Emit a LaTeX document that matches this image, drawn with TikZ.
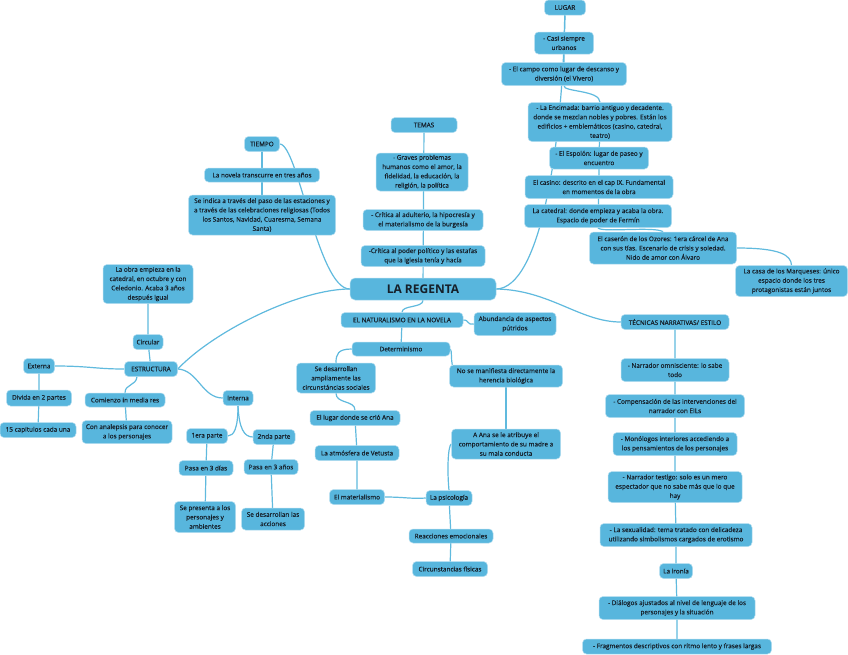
\documentclass[tikz,border=0pt]{standalone}
\usepackage{fontspec}
\setmainfont{Open Sans}
\newfontfamily\mapfont{Open Sans}[FakeBold=0.45]
\usetikzlibrary{backgrounds}
\definecolor{mapblue}{RGB}{88,182,221}
\definecolor{mapedge}{RGB}{96,186,222}
\definecolor{maptext}{RGB}{22,32,42}
\begin{document}
\begin{tikzpicture}[x=1pt,y=-1pt,
    idea/.style={draw=white!55!mapblue,line width=0.5pt,fill=mapblue,rounded corners=4pt,
          text=maptext,align=center,inner sep=1pt,font=\mapfont\fontsize{6.4}{9.3}\selectfont},
    wh/.style n args={2}{minimum width=#1pt,minimum height=#2pt},
    link/.style={draw=mapedge,line width=1.2pt}]
    \useasboundingbox (0,0) rectangle (848,654);
    % centro
    \node[idea,wh={146}{22},rounded corners=5pt,font=\fontsize{12}{14}\selectfont\bfseries](regenta) at (423,289){LA REGENTA};
    % tiempo
    \node[idea,wh={35}{15}](tiempo) at (262,144){TIEMPO};
    \node[idea,wh={115}{14}](novela) at (262,175){La novela transcurre en tres años};
    \node[idea,wh={147}{40}](indica) at (262,215){Se indica a través del paso de las estaciones y\\a través de las celebraciones religiosas (Todos\\los Santos, Navidad, Cuaresma, Semana\\Santa)};
    % temas
    \node[idea,wh={66}{15}](temas) at (424,125){TEMAS};
    \node[idea,wh={92}{38}](graves) at (422,172){- Graves problemas\\humanos como el amor, la\\fidelidad, la educación, la\\religión, la política};
    \node[idea,wh={120}{21}](adulterio) at (423,220){- Crítica al adulterio, la hipocresía y\\el materialismo de la burgesía};
    \node[idea,wh={124}{21}](poder) at (423,256){-Crítica al poder político y las estafas\\que la iglesia tenía y hacía};
    % lugar
    \node[idea,wh={41}{15}](lugar) at (565,7.5){LUGAR};
    \node[idea,wh={59}{22}](urbanos) at (564,43){- Casi siempre\\urbanos};
    \node[idea,wh={125}{23}](campo) at (564,74){- El campo como lugar de descanso y\\diversión (el Vivero)};
    \node[idea,wh={144}{39}](encimada) at (600,122){- La Encimada: barrio antiguo y decadente.\\donde se mezclan nobles y pobres. Están los\\edificios + emblemáticos (casino, catedral,\\teatro)};
    \node[idea,wh={99}{22}](espolon) at (599,158){- El Espolón: lugar de paseo y\\encuentro};
    \node[idea,wh={148}{23}](casino) at (599,187){El casino: descrito en el cap IX. Fundamental\\en momentos de la obra};
    \node[idea,wh={147}{23}](catedral) at (598,216){La catedral: donde empieza y acaba la obra.\\Espacio de poder de Fermín};
    \node[idea,wh={147}{32}](caseron) at (663,248){El caserón de los Ozores: 1era cárcel de Ana\\con sus tías. Escenario de crisis y soledad.\\Nido de amor con Álvaro};
    \node[idea,wh={112}{31}](casa) at (791.5,281){La casa de los Marqueses: único\\espacio donde los tres\\protagonistas están juntos};
    % estructura
    \node[idea,wh={53}{15}](estructura) at (151,369){ESTRUCTURA};
    \node[idea,wh={30}{15}](circular) at (148,342){Circular};
    \node[idea,wh={90}{39}](obra) at (148,284){La obra empieza en la\\catedral, en octubre y con\\Celedonio. Acaba 3 años\\después igual};
    \node[idea,wh={31}{15}](externa) at (39,366){Externa};
    \node[idea,wh={65}{16}](divida) at (39,398){Divida en 2 partes};
    \node[idea,wh={76}{15}](capitulos) at (38,430){15 capitulos cada una};
    \node[idea,wh={80}{14}](comienzo) at (125,400){Comienzo in media res};
    \node[idea,wh={90}{23}](analepsis) at (127,432){Con analepsis para conocer\\a los personajes};
    \node[idea,wh={30}{15}](interna) at (238,398){Interna};
    \node[idea,wh={41}{15}](primera) at (207,436){1era parte};
    \node[idea,wh={42}{15}](segunda) at (274,437){2nda parte};
    \node[idea,wh={54}{15}](dias) at (206,468){Pasa en 3 días};
    \node[idea,wh={54}{15}](anos) at (271,467){Pasa en 3 años};
    \node[idea,wh={61}{31}](presenta) at (205,517){Se presenta a los\\personajes y\\ambientes};
    \node[idea,wh={63}{22}](acciones) at (273,519){Se desarrollan las\\acciones};
    % naturalismo
    \node[idea,wh={122}{15}](naturalismo) at (402,320){EL NATURALISMO EN LA NOVELA};
    \node[idea,wh={82}{23}](abundancia) at (515,324){Abundancia de aspectos\\pútridos};
    \node[idea,wh={98}{14}](determinismo) at (401,349){Determinismo};
    \node[idea,wh={79}{30}](sedes) at (336,378){Se desarrollan\\ampliamente las\\circunstáncias sociales};
    \node[idea,wh={90}{15}](crio) at (355,418){El lugar donde se crió Ana};
    \node[idea,wh={84}{15}](atmosfera) at (357,453){La atmósfera de Vetusta};
    \node[idea,wh={55}{15}](materialismo) at (357,497){El materialismo};
    \node[idea,wh={113}{22}](nose) at (506,376){No se manifiesta directamente la\\herencia biológica};
    \node[idea,wh={109}{30}](aana) at (506,444){A Ana se le atribuye el\\comportamiento de su madre a\\su mala conducta};
    \node[idea,wh={46}{15}](psicologia) at (449,498){La psicología};
    \node[idea,wh={84}{14}](reacciones) at (451,536){Reacciones emocionales};
    \node[idea,wh={75}{15}](fisicas) at (450,569){Circunstancias físicas};
    % tecnicas
    \node[idea,wh={108}{15}](tecnicas) at (675,322){TÉCNICAS NARRATIVAS/ ESTILO};
    \node[idea,wh={108}{23}](omnisciente) at (675,370){- Narrador omnisciente: lo sabe\\todo};
    \node[idea,wh={139}{23}](compensacion) at (675,406){- Compensación de las intervenciones del\\narrador con EILs};
    \node[idea,wh={124}{23}](monologos) at (675,444){- Monólogos interiores accediendo a\\los pensamientos de los personajes};
    \node[idea,wh={134}{31}](testigo) at (675,487){- Narrador testigo: solo es un mero\\espectador que no sabe más que lo que\\hay};
    \node[idea,wh={152}{23}](sexualidad) at (676,535){- La sexualidad: tema tratado con delicadeza\\utilizando simbolismos cargados de erotismo};
    \node[idea,wh={33}{15}](ironia) at (676,571){La ironía};
    \node[idea,wh={156}{23}](dialogos) at (677,608){- Diálogos ajustados al nivel de lenguaje de los\\personajes y la situación};
    \node[idea,wh={189}{15}](fragmentos) at (677,646.5){- Fragmentos descriptivos con ritmo lento y frases largas};

    \begin{scope}[on background layer]
    \fill[white] (0,0) rectangle (848,654);
    % ramas principales
    \draw[link](regenta.west) .. controls (318,289) and (298,144) .. (tiempo.east);
    \draw[link](regenta.center) -- (temas.center);
    \draw[link](regenta.east) .. controls (540,288) and (562,150) .. (lugar.south);
    \draw[link](regenta.west) .. controls (300,289) and (215,330) .. (estructura.east);
    \draw[link](regenta.south) .. controls (423,308) and (402,305) .. (naturalismo.north);
    \draw[link](regenta.east) .. controls (550,290) and (580,322) .. (tecnicas.west);
    % tiempo
    \draw[link](tiempo.center) -- (novela.center) -- (indica.center);
    % lugar
    \draw[link](lugar.center) -- (urbanos.center) -- (campo.center);
    \draw[link](campo.south) .. controls (563,92) and (600,90) .. (encimada.north);
    \draw[link](encimada.center) -- (espolon.center) -- (casino.center) -- (catedral.center);
    \draw[link](catedral.south) .. controls (600,233) and (655,226) .. (caseron.north);
    \draw[link](caseron.east) .. controls (780,248) and (791,255) .. (casa.north);
    % estructura
    \draw[link](estructura.center) -- (circular.center) -- (obra.center);
    \draw[link](externa.east) .. controls (90,366) and (95,369) .. (estructura.west);
    \draw[link](externa.center) -- (divida.center) -- (capitulos.center);
    \draw[link]([xshift=-14pt]estructura.south) .. controls (136,386) and (125,384) .. (comienzo.north);
    \draw[link](comienzo.center) -- (analepsis.center);
    \draw[link](estructura.east) .. controls (198,370) and (202,398) .. (interna.west);
    \draw[link](interna.south) .. controls (238,428) and (234,436) .. (primera.east);
    \draw[link](interna.south) .. controls (239,428) and (244,437) .. (segunda.west);
    \draw[link](primera.center) -- (dias.center) -- (presenta.center);
    \draw[link](segunda.center) -- (anos.center) -- (acciones.center);
    % naturalismo
    \draw[link](naturalismo.east) .. controls (470,320) and (466,325) .. (abundancia.west);
    \draw[link](naturalismo.center) -- (determinismo.center);
    \draw[link](determinismo.west) .. controls (338,349) and (336,354) .. (sedes.north);
    \draw[link](sedes.south) .. controls (336,404) and (355,400) .. (crio.north);
    \draw[link](crio.center) -- (atmosfera.center) -- (materialismo.center);
    \draw[link](materialismo.east) .. controls (405,497) and (410,499) .. (psicologia.west);
    \draw[link](determinismo.east) .. controls (452,350) and (451,360) .. ([xshift=3pt]nose.north west);
    \draw[link](nose.center) -- (aana.center);
    \draw[link](aana.west) .. controls (448,446) and (447,470) .. (psicologia.north);
    \draw[link](psicologia.center) -- (reacciones.center) -- (fisicas.center);
    % tecnicas
    \draw[link](tecnicas.center) -- (omnisciente.center) -- (compensacion.center) -- (monologos.center)
        -- (testigo.center) -- (sexualidad.center) -- (ironia.center) -- (dialogos.center) -- (fragmentos.center);
    \end{scope}
  \end{tikzpicture}
\end{document}
